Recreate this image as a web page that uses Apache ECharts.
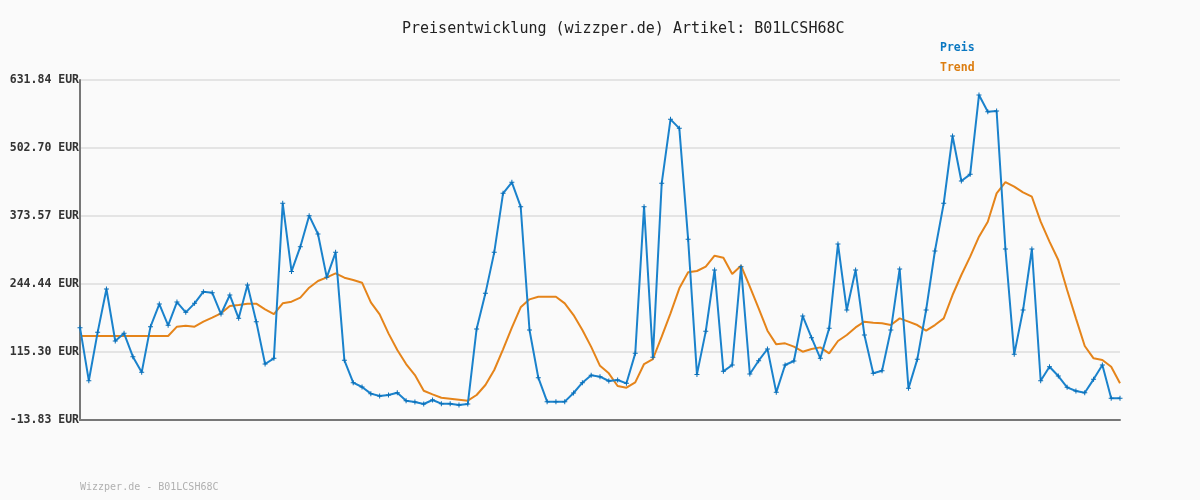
<!DOCTYPE html>
<html>
<head>
<meta charset="utf-8">
<script src="https://cdn.jsdelivr.net/npm/echarts@6/dist/echarts.min.js"></script>
<style>
html,body{margin:0;padding:0;background:#fafafa;}
#chart{width:1200px;height:500px;}
</style>
</head>
<body>
<div id="chart"></div>
<script>
const titleText = 'Preisentwicklung (wizzper.de) Artikel: B01LCSH68C';
const footerText = 'Wizzper.de - B01LCSH68C';
const seriesNames = ['Preis', 'Trend'];
const yTicks = [-13.83, 115.30, 244.44, 373.57, 502.70, 631.84];

const preis = [161.5, 60.8, 152.6, 234.9, 136.2, 150.7, 106.4, 76.7, 163.4, 206.4,
  165.9, 210.2, 190.6, 207.7, 229.8, 228.0, 187.4, 223.5, 179.2, 242.5,
  172.9, 92.5, 103.3, 397.6, 268.4, 315.3, 374.2, 339.4, 257.1, 304.5,
  99.5, 57.0, 48.8, 36.2, 31.7, 33.6, 38.0, 22.8, 20.3, 16.5,
  24.1, 17.2, 17.2, 14.6, 16.5, 159.0, 226.7, 304.5, 416.6, 437.5,
  391.3, 157.0, 66.5, 21.0, 21.0, 21.0, 37.4, 57.0, 71.0, 68.5,
  60.2, 62.1, 55.8, 112.7, 391.3, 105.2, 435.6, 557.1, 540.0, 329.2,
  72.8, 154.5, 271.0, 78.6, 90.6, 277.3, 73.5, 98.8, 121.0, 38.7,
  90.6, 98.2, 183.6, 142.5, 103.3, 160.2, 320.4, 195.0, 271.0, 147.6,
  74.8, 79.8, 157.0, 272.9, 46.3, 101.3, 195.0, 307.1, 397.6, 525.5,
  440.0, 452.7, 603.3, 571.7, 573.0, 310.9, 110.8, 195.0, 310.9, 60.8,
  87.4, 69.7, 48.2, 41.2, 38.0, 63.4, 90.6, 27.3, 27.3];

const trend = [145.7, 145.7, 145.7, 145.7, 145.7, 145.7, 145.7, 145.7, 145.7, 145.7,
  145.7, 163.4, 165.3, 163.4, 172.9, 180.5, 188.7, 202.6, 204.5, 207.1,
  207.1, 196.3, 187.4, 207.7, 210.8, 218.4, 237.4, 250.1, 257.1, 264.7,
  256.4, 252.0, 246.9, 209.6, 186.8, 150.7, 119.1, 92.5, 71.6, 41.8,
  34.9, 28.5, 26.6, 24.7, 22.8, 33.6, 52.6, 81.1, 120.3, 161.5,
  200.1, 215.3, 220.3, 220.3, 220.3, 207.7, 185.5, 157.0, 125.0, 89.0,
  74.8, 50.7, 47.5, 57.7, 92.5, 102.0, 144.4, 188.7, 236.2, 266.6,
  269.1, 277.3, 298.2, 294.4, 263.4, 279.2, 239.3, 198.2, 155.8, 129.8,
  131.7, 125.4, 115.9, 121.0, 124.1, 112.7, 136.2, 147.6, 162.0, 172.9,
  171.0, 169.7, 166.5, 179.2, 172.9, 166.5, 155.8, 166.5, 179.2, 223.5,
  261.5, 296.3, 334.3, 362.8, 416.6, 438.1, 429.2, 418.5, 410.2, 362.8,
  324.8, 290.0, 233.0, 179.2, 126.7, 103.3, 100.1, 87.4, 55.8];

const categories = preis.map((_, i) => String(i + 1));

const colPreis = '#1a82cc';
const colTrend = '#e5841a';
const mono = '"DejaVu Sans Mono", monospace';

const chart = echarts.init(document.getElementById('chart'), null, {renderer: 'canvas'});
chart.setOption({
  backgroundColor: '#fafafa',
  animation: false,
  title: [{
    text: titleText,
    left: 402, top: 22, padding: 0,
    textStyle: {fontFamily: mono, fontSize: 15, fontWeight: 'normal', color: '#222'}
  }, {
    text: footerText,
    left: 80, top: 482, padding: 0,
    textStyle: {fontFamily: mono, fontSize: 10, fontWeight: 'normal', color: '#b0b0b0'}
  }],
  legend: {
    orient: 'vertical', left: 930, top: 37,
    icon: 'none', itemWidth: 0, itemHeight: 12, itemGap: 8,
    selectedMode: false,
    data: [
      {name: seriesNames[0], textStyle: {color: '#0a78c2'}},
      {name: seriesNames[1], textStyle: {color: '#dc7d10'}}
    ],
    textStyle: {fontFamily: mono, fontSize: 11.5, fontWeight: 'bold', padding: 0}
  },
  grid: {left: 80, right: 80, top: 80, bottom: 80, containLabel: false},
  xAxis: {
    type: 'category', data: categories, boundaryGap: false,
    axisLine: {show: true, onZero: false, lineStyle: {color: '#777', width: 2}},
    axisTick: {show: false}, axisLabel: {show: false}, splitLine: {show: false}
  },
  yAxis: {
    type: 'value', min: yTicks[0], max: yTicks[yTicks.length - 1],
    axisLine: {show: true, lineStyle: {color: '#777', width: 2}},
    axisTick: {show: false, customValues: yTicks},
    axisLabel: {
      customValues: yTicks, margin: 1,
      formatter: v => v.toFixed(2) + ' EUR',
      fontFamily: mono, fontSize: 11.5, fontWeight: 'bold', color: '#333'
    },
    splitLine: {show: true, lineStyle: {color: '#e4e4e4', width: 2}}
  },
  series: [{
    name: seriesNames[0], type: 'line', data: preis,
    lineStyle: {color: colPreis, width: 2},
    itemStyle: {color: '#0a6fb8'},
    symbol: 'path://M2,0H3V2H5V3H3V5H2V3H0V2H2Z', symbolSize: 5, showSymbol: true,
    z: 3
  }, {
    name: seriesNames[1], type: 'line', data: trend,
    lineStyle: {color: colTrend, width: 2},
    itemStyle: {color: colTrend},
    symbol: 'none', z: 2
  }]
});
</script>
</body>
</html>
